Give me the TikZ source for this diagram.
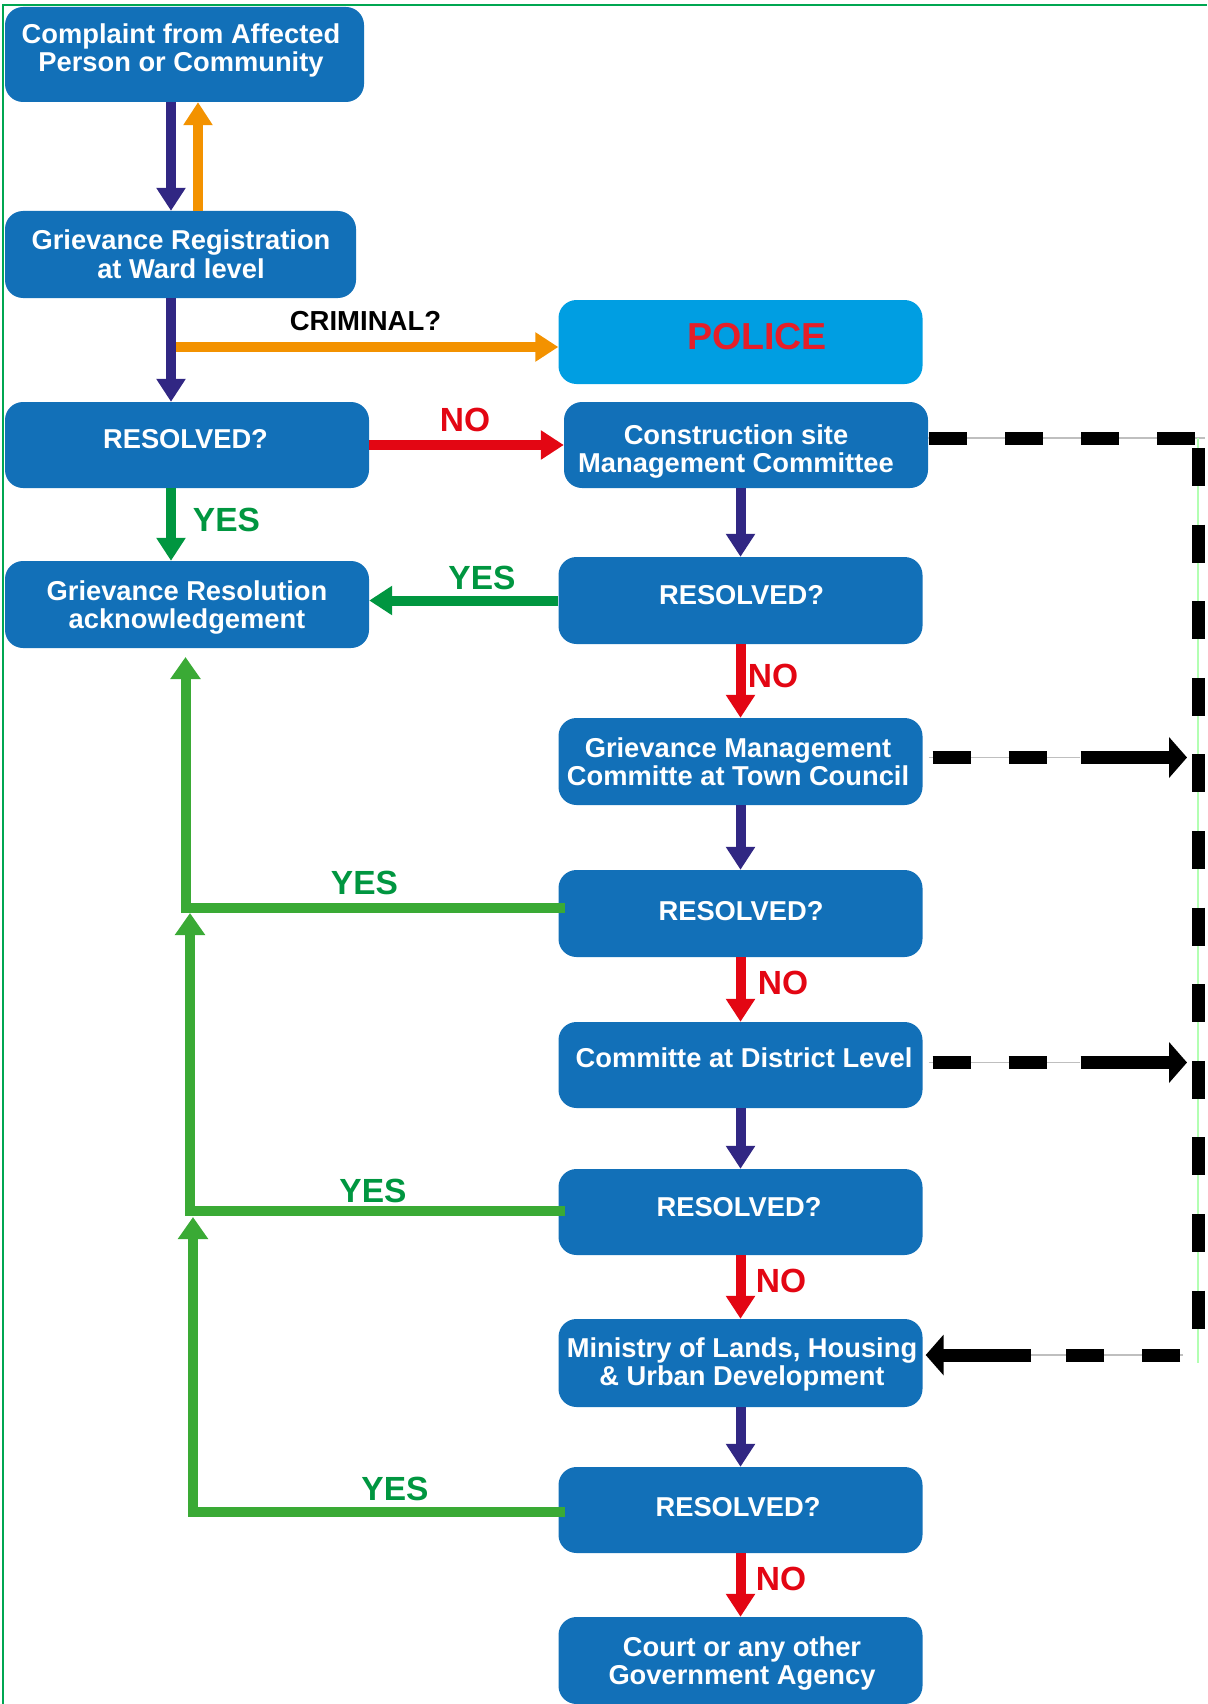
\documentclass[tikz,border=0pt]{standalone}
\usepackage{fontspec}
\setmainfont{Liberation Sans}
\usetikzlibrary{arrows.meta}

\definecolor{boxblue}{RGB}{18,112,184}
\definecolor{policeblue}{RGB}{0,158,226}
\definecolor{nored}{RGB}{227,6,19}
\definecolor{policered}{RGB}{230,30,40}
\definecolor{flowpurple}{RGB}{49,39,131}
\definecolor{floworange}{RGB}{243,146,0}
\definecolor{yesgreen}{RGB}{0,150,64}
\definecolor{backgreen}{RGB}{58,170,53}
\definecolor{framegreen}{RGB}{0,166,81}

\newcommand\boxfont{\fontsize{27.3}{28}\selectfont\bfseries}
\newcommand\twoline[2]{\begin{tabular}[t]{@{}c@{}}#1\\#2\end{tabular}}

\tikzset{
  stage/.style={rounded corners=18pt, fill=boxblue, draw=none, inner sep=0pt,
                minimum width=364pt, minimum height=87pt},
  boxtext/.style={text=white, font=\boxfont, inner sep=0pt, anchor=base},
  tag/.style={inner sep=0pt, anchor=base, font=\fontsize{33.5}{36}\selectfont\bfseries},
  notag/.style={tag, text=nored},
  yestag/.style={tag, text=yesgreen},
  arrowflow/.style={line width=10pt, -{Triangle[width=28pt,length=23pt]}},
  yesback/.style={line width=10pt, backgreen, -{Triangle[width=29pt,length=22pt]}},
  hair/.style={line width=1.2pt, black!25},
  dashrun/.style={line width=13pt, black},
  bigtip/.style={-{Triangle[width=40pt,length=18pt]}}
}

\begin{document}
\begin{tikzpicture}[x=1pt,y=-1pt]
\useasboundingbox (0,0) rectangle (1207,1704);

% frame
\draw[framegreen, line width=2pt] (3,1704) -- (3,5) -- (1207,5);

% stages
\node[stage, minimum width=359pt, minimum height=95pt] (b1) at (184.5,54.5) {};
\node[stage, minimum width=351pt] (b2) at (180.5,254.5) {};
\node[stage, fill=policeblue, minimum height=84pt] (police) at (740.5,342) {};
\node[stage, minimum height=86pt] (r0) at (187,445) {};
\node[stage, minimum height=86pt] (c1) at (746,445) {};
\node[stage] (ack) at (187,604.5) {};
\node[stage] (r1) at (740.5,600.5) {};
\node[stage] (c2) at (740.5,761.5) {};
\node[stage] (r2) at (740.5,913.5) {};
\node[stage, minimum height=86pt] (c3) at (740.5,1065) {};
\node[stage, minimum height=86pt] (r3) at (740.5,1212) {};
\node[stage, minimum height=88pt] (c4) at (740.5,1363) {};
\node[stage, minimum height=86pt] (r4) at (740.5,1510) {};
\node[stage] (c5) at (740.5,1660.5) {};

% stage texts
\node[boxtext] (b1t) at (181,43.3) {\twoline{Complaint from Affected}{Person or Community}};
\node[boxtext] (b2t) at (181,250) {\twoline{Grievance Registration}{at Ward level}};
\node[inner sep=0pt, anchor=base, text=policered, font=\fontsize{37.6}{40}\selectfont\bfseries] (policet) at (757,349) {POLICE};
\node[boxtext] (r0t) at (185.5,448) {RESOLVED?};
\node[boxtext] (c1t) at (736,444) {\twoline{Construction site}{Management Committee}};
\node[boxtext] (ackt) at (187,600) {\twoline{Grievance Resolution}{acknowledgement}};
\node[boxtext] (r1t) at (741.5,604) {RESOLVED?};
\node[boxtext] (c2t) at (738,757) {\twoline{Grievance Management}{Committe at Town Council}};
\node[boxtext] (r2t) at (741,920) {RESOLVED?};
\node[boxtext] (c3t) at (744,1067.5) {Committe at District Level};
\node[boxtext] (r3t) at (739,1216.5) {RESOLVED?};
\node[boxtext] (c4t) at (742,1357) {\twoline{Ministry of Lands, Housing}{\& Urban Development}};
\node[boxtext] (r4t) at (738,1516) {RESOLVED?};
\node[boxtext] (c5t) at (742,1656) {\twoline{Court or any other}{Government Agency}};

% answer labels
\node[tag, text=black, font=\fontsize{27.5}{30}\selectfont\bfseries] (crim) at (365.5,330) {CRIMINAL?};
\node[notag] (no0) at (465,431) {NO};
\node[yestag] (yes0) at (226.5,531) {YES};
\node[yestag] (yes1) at (482,589) {YES};
\node[notag] (no1) at (773,687) {NO};
\node[notag] (no2) at (783,994) {NO};
\node[notag] (no3) at (781,1292) {NO};
\node[notag] (no4) at (781,1590) {NO};
\node[yestag] (yes2) at (364.5,894) {YES};
\node[yestag] (yes3) at (373,1202) {YES};
\node[yestag] (yes4) at (395,1500) {YES};

% complaint and registration
\draw[arrowflow, flowpurple] (b1.south -| 171,0) -- (b2.north -| 171,0);
\draw[arrowflow, floworange] (b2.north -| 198,0) -- (b1.south -| 198,0);

% criminal cases go to the police
\coordinate (crimfork) at (171,347);
\draw[arrowflow, floworange] (crimfork) -- (police.west |- crimfork);
\draw[arrowflow, flowpurple] (b2.south -| 171,0) -- (r0.north -| 171,0);

% first decision
\draw[arrowflow, nored] (r0.east) -- (c1.west);
\draw[arrowflow, yesgreen] (r0.south -| 171,0) -- (ack.north -| 171,0);
\draw[arrowflow, yesgreen] (r1.west) -- (r1.west -| ack.east);

% escalation column
\draw[arrowflow, flowpurple] (c1.south -| r1.north) -- (r1.north);
\draw[arrowflow, nored] (r1.south) -- (c2.north);
\draw[arrowflow, flowpurple] (c2.south) -- (r2.north);
\draw[arrowflow, nored] (r2.south) -- (c3.north);
\draw[arrowflow, flowpurple] (c3.south) -- (r3.north);
\draw[arrowflow, nored] (r3.south) -- (c4.north);
\draw[arrowflow, flowpurple] (c4.south) -- (r4.north);
\draw[arrowflow, nored] (r4.south) -- (c5.north);

% resolved at a higher level: back to acknowledgement
\coordinate (l1top) at (185.5,657);
\coordinate (l2top) at (190,913);
\coordinate (l3top) at (193,1217);
\draw[yesback] ([xshift=7pt,yshift=6pt]r2.west) -| (l1top);
\draw[yesback] ([xshift=7pt,yshift=1pt]r3.west) -| (l2top);
\draw[yesback] ([xshift=7pt,yshift=-2pt]r4.west) -| (l3top);

% direct referral to the ministry
\coordinate (dtr) at (1198,438);
\coordinate (dtrx) at (1205,438);
\coordinate (dbr) at (1198,1355);
\coordinate (dgb) at (1198,1363);
\coordinate (dbl) at (1183,1355);
\coordinate (dsh) at (1031,1355);
\draw[hair] ([yshift=7pt]c1.east) -- (dtrx);
\draw[line width=1.2pt, green!30] (dtr) -- (dgb);
\draw[hair] (dbl) -- (dsh);
\draw[dashrun, dash pattern=on 38pt off 38pt] ([xshift=1pt,yshift=7pt]c1.east) -- (dtr);
\draw[dashrun, dash pattern=on 38pt off 38.6pt, dash phase=66.6pt] (dtr) -- (dbr);
\draw[dashrun, bigtip, dash pattern=on 0pt off 3pt on 38pt off 38pt on 38pt off 35pt on 400pt]
  (dbl) -- ([xshift=3pt,yshift=8pt]c4.east);

% town council and district committee may also refer to it
\coordinate (t2) at (1187,757.5);
\coordinate (t2g) at (1080,757.5);
\coordinate (t3) at (1187,1062.5);
\coordinate (t3g) at (1080,1062.5);
\draw[hair] ([xshift=6pt,yshift=4pt]c2.east) -- (t2g);
\draw[hair] ([xshift=6pt,yshift=2.5pt]c3.east) -- (t3g);
\draw[dashrun, bigtip, dash pattern=on 0pt off 10pt on 38pt off 38pt on 38pt off 34pt on 400pt]
  ([yshift=4pt]c2.east) -- (t2);
\draw[dashrun, bigtip, dash pattern=on 0pt off 10pt on 38pt off 38pt on 38pt off 34pt on 400pt]
  ([yshift=2.5pt]c3.east) -- (t3);
\end{tikzpicture}
\end{document}
